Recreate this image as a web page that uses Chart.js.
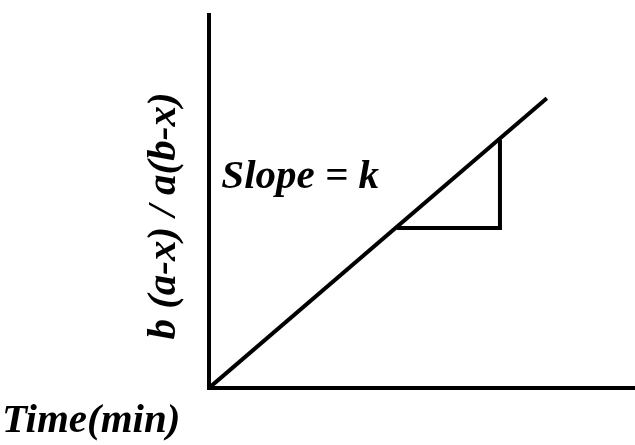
<!DOCTYPE html>
<html>
<head>
<meta charset="utf-8">
<script src="https://cdn.jsdelivr.net/npm/chart.js@4"></script>
<style>
  html, body { margin: 0; padding: 0; background: #fff; }
  #wrap { width: 635px; height: 445px; }
</style>
</head>
<body>
<div id="wrap"><canvas id="chart" width="635" height="445"></canvas></div>
<script>
// straight line through the origin, plus the slope triangle under it
const lineX = [0, 79.3];
const lineY = [0, 77.7];
const triX = [44.1, 68.3, 68.3];
const triY = [42.9, 42.9, 66.5];

const yLabel = "b (a-x) / a(b-x)";
const xLabel = "Time(min)";
const slopeLabel = "Slope = k";

const FONT = "bold italic 41px 'Liberation Serif', 'Times New Roman', serif";

function pts(xs, ys){ return xs.map((x,i)=>({ x, y: ys[i] })); }

// text is drawn by hand so it can sit exactly where we want it
const labelsPlugin = {
  id: "labels",
  afterDraw(chart){
    const ctx = chart.ctx;
    const sx = chart.scales.x, sy = chart.scales.y;
    ctx.save();
    ctx.fillStyle = "#000";
    ctx.font = FONT;
    ctx.textBaseline = "alphabetic";

    // slope annotation
    ctx.textAlign = "left";
    ctx.fillText(slopeLabel, sx.getPixelForValue(2.9), sy.getPixelForValue(53.6));

    // x label, bottom-left corner
    ctx.fillText(xLabel, 2, 432);

    // rotated y label
    ctx.translate(175, 216);
    ctx.rotate(-Math.PI/2);
    ctx.textAlign = "center";
    ctx.fillText(yLabel, 0, 0);
    ctx.restore();
  }
};

new Chart(document.getElementById("chart"), {
  type: "scatter",
  data: {
    datasets: [
      { data: pts(lineX, lineY), showLine: true, borderColor: "#000", borderWidth: 4, pointRadius: 0, fill: false },
      { data: pts(triX, triY), showLine: true, borderColor: "#000", borderWidth: 4, pointRadius: 0, fill: false, borderCapStyle: "butt" }
    ]
  },
  options: {
    responsive: false,
    animation: false,
    layout: { padding: { left: 209, top: 15, right: 0, bottom: 57 } },
    plugins: { legend: { display: false }, tooltip: { enabled: false } },
    scales: {
      x: {
        type: "linear", min: 0, max: 100,
        ticks: { display: false },
        grid: { display: false, drawTicks: false },
        border: { display: true, color: "#000", width: 4 }
      },
      y: {
        type: "linear", min: 0, max: 100,
        ticks: { display: false },
        grid: { display: false, drawTicks: false },
        border: { display: true, color: "#000", width: 4 }
      }
    }
  },
  plugins: [labelsPlugin]
});
</script>
</body>
</html>
